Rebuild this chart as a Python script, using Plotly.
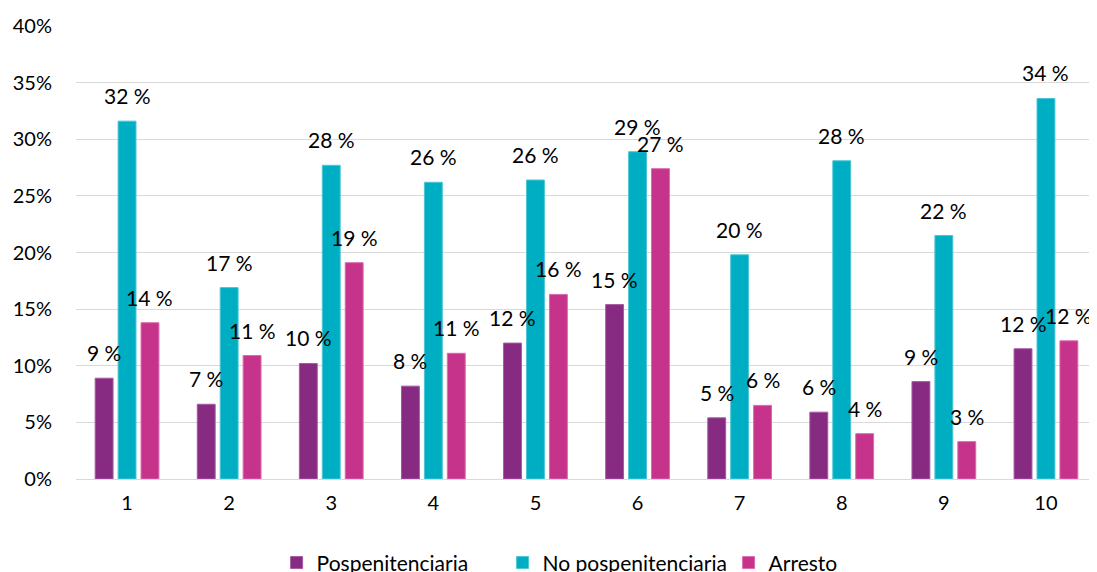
import plotly.graph_objects as go

categories = [1, 2, 3, 4, 5, 6, 7, 8, 9, 10]
pospenitenciaria = [8.9, 6.6, 10.2, 8.2, 12.0, 15.4, 5.4, 5.9, 8.6, 11.5]
no_pospenitenciaria = [31.6, 16.9, 27.7, 26.2, 26.4, 28.9, 19.8, 28.1, 21.5, 33.6]
arresto = [13.8, 10.9, 19.1, 11.1, 16.3, 27.4, 6.5, 4.0, 3.3, 12.2]
series_names = ["Pospenitenciaria", "No pospenitenciaria", "Arresto"]
colors = ["#862A82", "#00AEC3", "#C5338A"]
line_colors = ["#A55AA1", "#4CC6D5", "#D96BAC"]

FONT = "Lato"
fig = go.Figure()
all_series = [pospenitenciaria, no_pospenitenciaria, arresto]
for name, vals, c, lc in zip(series_names, all_series, colors, line_colors):
    fig.add_trace(go.Bar(
        x=categories, y=vals, name=name,
        marker=dict(color=c, line=dict(color=lc, width=1)),
    ))

bargap = 0.326
slot = (1 - bargap) / 3
offsets = [-slot, 0, slot]
for vals, off in zip(all_series, offsets):
    for cat, v in zip(categories, vals):
        fig.add_annotation(
            x=cat + off, y=v, xref="x", yref="y",
            text=f"{round(v):d} %", showarrow=False,
            yanchor="bottom", yshift=11,
            font=dict(family=FONT, size=21, color="#000000"),
        )

# the page body adds an 8px offset; size the figure to fit the 1097x572 window
fig.update_layout(
    width=1089, height=564,
    margin=dict(l=68, r=0, t=18, b=93, autoexpand=False),
    plot_bgcolor="white", paper_bgcolor="white",
    barmode="group", bargap=bargap, bargroupgap=0.22,
    font=dict(family=FONT, size=20, color="#000000"),
    showlegend=True,
    legend=dict(
        orientation="h", x=0.5285, xanchor="center", y=-0.14, yanchor="top",
        font=dict(family=FONT, size=21, color="#000000"),
        entrywidth=181, itemwidth=30,
    ),
    xaxis=dict(
        tickmode="array", tickvals=categories,
        ticktext=[str(c) for c in categories],
        range=[0.5, 10.5], showgrid=False, showline=True,
        linecolor="#D9D9D9", linewidth=1, ticks="",
        tickfont=dict(family=FONT, size=20),
        ticklabelstandoff=6, automargin=False,
    ),
    yaxis=dict(
        range=[0, 40], dtick=5, ticksuffix="%",
        showgrid=True, gridcolor="#D9D9D9", gridwidth=1,
        zeroline=False, showline=False, ticks="",
        tickfont=dict(family=FONT, size=20),
        ticklabelstandoff=23, automargin=False,
    ),
)

fig.write_html("out.html")
